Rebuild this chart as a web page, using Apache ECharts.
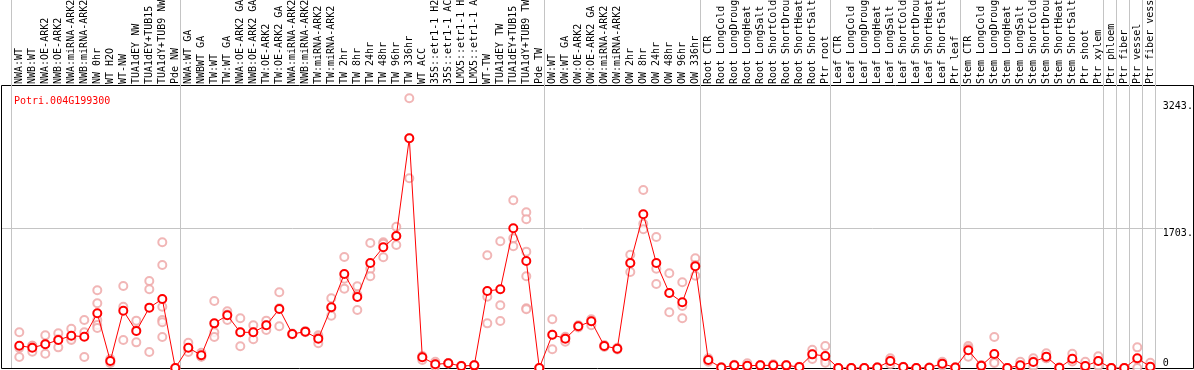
<!DOCTYPE html>
<html><head><meta charset="utf-8">
<script src="https://cdn.jsdelivr.net/npm/echarts@6/dist/echarts.min.js"></script>
<style>html,body{margin:0;padding:0;background:#fff}#c{width:1194px;height:370px}</style>
</head><body><div id="c"></div>
<script>
const geneId = 'Potri.004G199300';
const categories = [
  'NWA:WT','NWB:WT','NWA:OE-ARK2','NWB:OE-ARK2','NWA:miRNA-ARK2','NWB:miRNA-ARK2','NW 0hr','WT H2O','WT-NW',
  'TUA1dEY NW','TUA1dEY+TUB15 NW','TUA1dY+TUB9 NW','Pde NW',
  'NWA:WT GA','NWBWT GA','TW:WT','TW:WT GA','NWA:OE-ARK2 GA','NWB:OE-ARK2 GA','TW:OE-ARK2','TW:OE-ARK2 GA',
  'NWA:miRNA-ARK2 GA','NWB:miRNA-ARK2 GA','TW:miRNA-ARK2','TW:miRNA-ARK2 GA',
  'TW 2hr','TW 8hr','TW 24hr','TW 48hr','TW 96hr','TW 336hr','WT ACC',
  '35S::etr1-1 H2O','35S::etr1-1 ACC','LMX5::etr1-1 H2O','LMX5::etr1-1 ACC',
  'WT-TW','TUA1dEY TW','TUA1dEY+TUB15 TW','TUA1dY+TUB9 TW','Pde TW',
  'OW:WT','OW:WT GA','OW:OE-ARK2','OW:OE-ARK2 GA','OW:miRNA-ARK2','OW:miRNA-ARK2 GA',
  'OW 2hr','OW 8hr','OW 24hr','OW 48hr','OW 96hr','OW 336hr',
  'Root CTR','Root LongCold','Root LongDrought','Root LongHeat','Root LongSalt','Root ShortCold','Root ShortDrought','Root ShortHeat','Root ShortSalt','Ptr root',
  'Leaf CTR','Leaf LongCold','Leaf LongDrought','Leaf LongHeat','Leaf LongSalt','Leaf ShortCold','Leaf ShortDrought','Leaf ShortHeat','Leaf ShortSalt','Ptr leaf',
  'Stem CTR','Stem LongCold','Stem LongDrought','Stem LongHeat','Stem LongSalt','Stem ShortCold','Stem ShortDrought','Stem ShortHeat','Stem ShortSalt',
  'Ptr shoot','Ptr xylem','Ptr phloem','Ptr fiber','Ptr vessel','Ptr fiber vessel'
];
const meanValues = [
  271,247,288,341,393,381,665,85,697,450,734,839,0,
  247,154,543,641,434,434,519,718,414,442,357,738,
  1143,864,1277,1468,1606,2794,130,45,57,24,32,
  937,957,1699,1302,0,
  405,357,507,568,268,235,1277,1869,1277,912,799,1237,
  97,5,32,28,32,32,32,12,166,146,
  0,0,0,5,85,12,0,4,53,5,
  215,28,170,0,32,73,138,3,113,
  24,85,0,0,118,16
];
const replicateValues = [
  [434,245,134],[271,199,271],[397,293,174],[422,350,251],[478,360,341],[584,434,134],
  [945,787,584,523,486],[110,85,60],[997,746,341],[576,460,312],[1058,957,195],
  [1529,1253,746,584,556,377],[0,0,0],
  [308,240,195],[186,140,136],[815,434,377],[690,650,584],[604,434,264],[519,434,349],
  [576,519,462],[921,727,507],[420,412,410],[450,440,436],[397,374,300],[848,730,636],
  [1350,1086,965],[993,890,706],[1521,1204,1115],[1529,1512,1346],[1719,1606,1496],
  [3280,2794,2307],[146,130,97],[77,45,16],[60,57,54],[28,24,20],[36,32,28],
  [1371,867,543],[1541,763,572],[2040,1577,1480],[1894,1809,1415,1115,726,714],[0,0,0],
  [592,405,227],[381,370,320],[520,507,494],[592,568,519],[280,268,256],[245,235,225],
  [1378,1277,1168],[2165,1755,1687],[1594,1208,1022],[1152,912,677],[1042,754,604],[1334,1254,1123],
  [118,97,77],[8,5,2],[40,32,24],[57,20,8],[36,32,28],[45,30,21],[36,32,28],[16,12,8],[223,166,109],[268,97,65],
  [0,0,0],[0,0,0],[0,0,0],[8,5,2],[118,92,45],[16,12,8],[0,0,0],[6,4,2],[77,50,32],[8,5,2],
  [268,239,138],[36,28,20],[377,73,60],[0,0,0],[77,24,0],[118,80,20],[178,118,118],[5,3,1],[174,85,80],
  [77,0,0],[142,85,24],[0,0,0],[0,0,0],[251,103,0],[64,0,0]
];
const yTickValues = [1703, 3243];
const yTickLabels = ['1703.', '3243.'];
const yZeroValues = [0];
const yZeroLabels = ['0'];
const groupStarts = [0, 13, 41, 53, 63, 73, 84, 85, 86, 87];
const yMax = 3442;

const FONT = 'DejaVu Sans Mono';
const repData = [];
replicateValues.forEach((arr, i) => arr.forEach(v => repData.push([i, v])));

const chart = echarts.init(document.getElementById('c'), null, {renderer: 'canvas'});
chart.setOption({
  animation: false,
  backgroundColor: '#ffffff',
  title: {
    text: geneId, left: 9, top: 91,
    textStyle: {fontFamily: FONT, fontSize: 10, fontWeight: 'normal', color: '#ff0000'}
  },
  grid: [
    {left: 12.8, right: 37.2, top: 85, bottom: 2, containLabel: false, outerBoundsMode: 'none'},
    {left: 11.3, right: 38.7, top: 0, bottom: 2, containLabel: false, outerBoundsMode: 'none'},
    {left: 1.5, right: 0.5, top: 85.5, bottom: 1.5, show: true, borderColor: '#000', borderWidth: 1, backgroundColor: 'transparent', containLabel: false, outerBoundsMode: 'none'},
    {left: 2, right: 31, top: 85, bottom: 2, containLabel: false, outerBoundsMode: 'none'}
  ],
  xAxis: [
    {type: 'category', gridIndex: 0, data: categories, position: 'top', boundaryGap: true,
      axisLine: {show: false}, axisTick: {show: false}, splitLine: {show: false},
      axisLabel: {interval: 0, rotate: 90, margin: 1, fontFamily: FONT, fontSize: 10, color: '#000'}},
    {type: 'category', gridIndex: 1, data: categories, boundaryGap: true,
      axisLine: {show: false}, axisTick: {show: false}, axisLabel: {show: false},
      splitLine: {show: true, interval: (idx) => groupStarts.indexOf(idx) >= 0, lineStyle: {color: '#c4c4c4', width: 1}}},
    {type: 'value', gridIndex: 2, show: false},
    {type: 'value', gridIndex: 3, show: false}
  ],
  yAxis: [
    {type: 'value', gridIndex: 0, min: 0, max: yMax, position: 'right',
      axisLine: {show: false}, axisTick: {show: false}, splitLine: {show: false},
      axisLabel: {customValues: yTickValues, margin: 6, verticalAlign: 'top', fontFamily: FONT, fontSize: 10, color: '#000',
        formatter: v => yTickLabels[yTickValues.indexOf(v)]}},
    {type: 'value', gridIndex: 0, min: 0, max: yMax, position: 'right',
      axisLine: {show: false}, axisTick: {show: false}, splitLine: {show: false},
      axisLabel: {customValues: yZeroValues, margin: 6, verticalAlign: 'bottom', fontFamily: FONT, fontSize: 10, color: '#000',
        formatter: v => yZeroLabels[yZeroValues.indexOf(v)]}},
    {type: 'value', gridIndex: 1, show: false},
    {type: 'value', gridIndex: 2, show: false},
    {type: 'value', gridIndex: 3, min: 0, max: yMax,
      axisLine: {show: false}, axisLabel: {show: false},
      axisTick: {show: false, customValues: [yTickValues[0]]},
      splitLine: {show: true, lineStyle: {color: '#c4c4c4', width: 1}}}
  ],
  series: [
    {type: 'scatter', xAxisIndex: 0, yAxisIndex: 0, data: repData, symbol: 'emptyCircle', symbolSize: 8,
      itemStyle: {color: '#eea4a4', borderColor: '#eea4a4', borderWidth: 1.2}, z: 2, silent: true},
    {type: 'line', xAxisIndex: 0, yAxisIndex: 0, data: meanValues, symbol: 'emptyCircle', symbolSize: 8,
      lineStyle: {color: '#ff0000', width: 1}, itemStyle: {color: '#ff0000', borderColor: '#ff0000', borderWidth: 1.4},
      z: 3, silent: true}
  ]
});
</script></body></html>
